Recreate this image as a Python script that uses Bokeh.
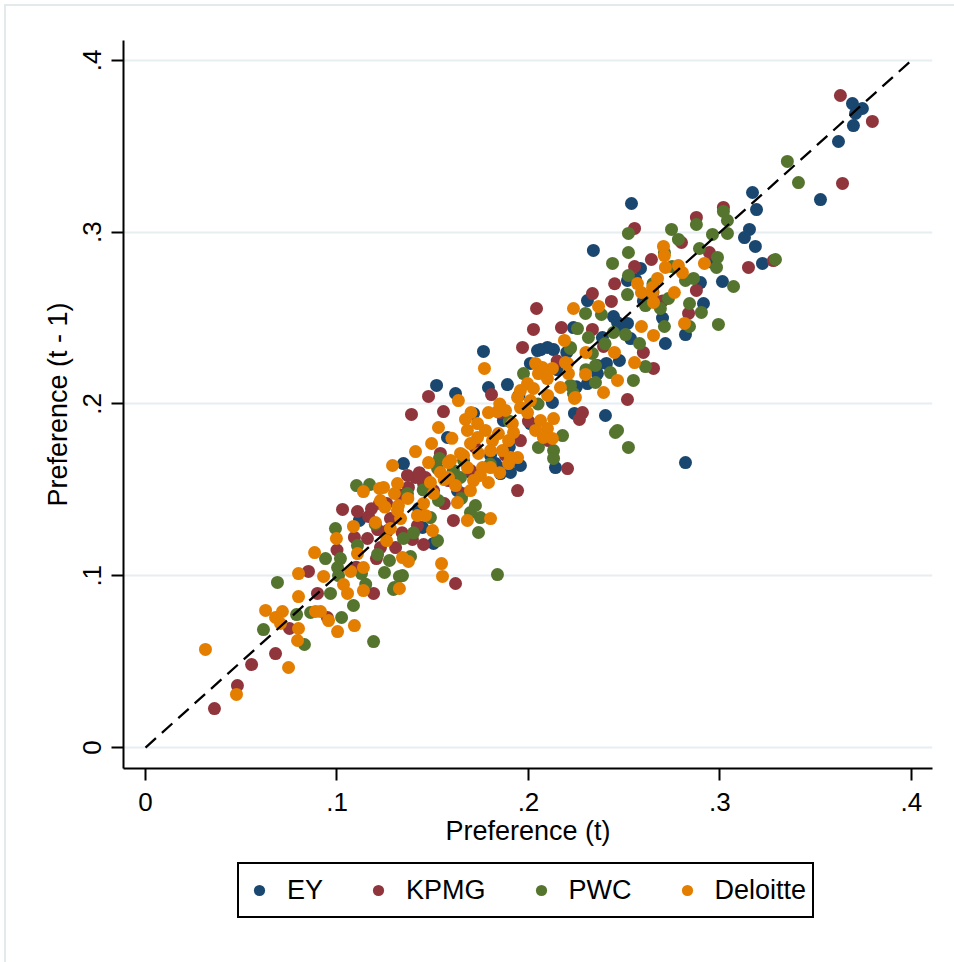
from bokeh.plotting import figure
from bokeh.layouts import column
from bokeh.models import (Range1d, FixedTicker, CustomJSTickFormatter, Legend, LegendItem)
from bokeh.embed import file_html
from bokeh.resources import INLINE

# ---------------- data ----------------
ey_x = [0.2538, 0.2820, 0.3525, 0.3692, 0.3744, 0.3708, 0.3697, 0.3619, 0.3170, 0.3191, 0.3154, 0.3128,
        0.3185, 0.3222, 0.3013, 0.2914, 0.2820, 0.2715, 0.2961, 0.2898, 0.2339, 0.2585, 0.2559, 0.2517,
        0.2308, 0.2444, 0.2235, 0.2131, 0.2099, 0.2063, 0.2386, 0.2465, 0.2517, 0.2407, 0.2360, 0.2475,
        0.2308, 0.2360, 0.2402, 0.2240, 0.2125, 0.2010, 0.2010, 0.1869, 0.1765, 0.1520, 0.1619, 0.1791,
        0.1890, 0.1713, 0.1577, 0.1854, 0.1906, 0.2141, 0.1854, 0.1828, 0.1347, 0.1426, 0.1117, 0.1629,
        0.1447, 0.2047, 0.2480, 0.2533, 0.1802, 0.1958, 0.1504,
        0.1900, 0.1950, 0.2200, 0.2600, 0.2700, 0.2150, 0.1700, 0.2250, 0.2650]
ey_y = [0.3167, 0.1659, 0.3190, 0.3749, 0.3720, 0.3691, 0.3621, 0.3528, 0.3231, 0.3132, 0.3016, 0.2969,
        0.2917, 0.2818, 0.2713, 0.2585, 0.2404, 0.2352, 0.2824, 0.2707, 0.2894, 0.2789, 0.2725, 0.2719,
        0.2602, 0.2509, 0.2445, 0.2317, 0.2329, 0.2317, 0.2387, 0.2474, 0.2469, 0.2236, 0.2224, 0.2253,
        0.2119, 0.2177, 0.1933, 0.1945, 0.2009, 0.1886, 0.2236, 0.1904, 0.2306, 0.2108, 0.2061, 0.2096,
        0.2113, 0.1945, 0.1805, 0.1624, 0.1601, 0.1630, 0.1595, 0.1653, 0.1653, 0.1391, 0.1322, 0.1496,
        0.1281, 0.2311, 0.2445, 0.2381, 0.1700, 0.1642, 0.1188,
        0.1750, 0.2050, 0.2300, 0.2600, 0.2500, 0.2200, 0.1600, 0.2100, 0.2650]

kpmg_x = [0.3629, 0.3796, 0.3640, 0.3018, 0.2877, 0.2799, 0.2945, 0.2642, 0.2554, 0.3149, 0.3279, 0.2877,
          0.2836, 0.2653, 0.2554, 0.2334, 0.2433, 0.2042, 0.2026, 0.2172, 0.2334, 0.2392, 0.1969, 0.2517,
          0.2204, 0.2282, 0.2266, 0.1807, 0.1478, 0.1556, 0.1389, 0.1943, 0.1462, 0.1582, 0.1540, 0.1410,
          0.1373, 0.1452, 0.1504, 0.1655, 0.1608, 0.1259, 0.1222, 0.1029, 0.1107, 0.1165, 0.1091, 0.1159,
          0.1212, 0.1264, 0.1227, 0.1206, 0.1306, 0.1394, 0.1452, 0.1279, 0.1420, 0.1368, 0.1191, 0.0851,
          0.0898, 0.0950, 0.0752, 0.0679, 0.0554, 0.0480, 0.0360, 0.1619, 0.1697, 0.1958, 0.2104,
          0.1430, 0.1330, 0.1180, 0.1000, 0.1560, 0.1720, 0.1850, 0.1880, 0.2000, 0.2150, 0.2450, 0.2700,
          0.2600, 0.1340, 0.1100]
kpmg_y = [0.3796, 0.3645, 0.3284, 0.3144, 0.3086, 0.2940, 0.2882, 0.2841, 0.2800, 0.2795, 0.2835, 0.2661,
          0.2527, 0.2207, 0.3022, 0.2643, 0.2597, 0.2556, 0.2434, 0.2445, 0.2434, 0.2335, 0.2329, 0.2026,
          0.1624, 0.1950, 0.1910, 0.2055, 0.2044, 0.1956, 0.1939, 0.1496, 0.1572, 0.1554, 0.1712, 0.1572,
          0.1514, 0.1537, 0.1496, 0.1479, 0.1322, 0.1421, 0.1421, 0.1386, 0.1374, 0.1345, 0.1223, 0.1217,
          0.1269, 0.1263, 0.1164, 0.1100, 0.1164, 0.1211, 0.1182, 0.1333, 0.1292, 0.1584, 0.0897, 0.1025,
          0.0897, 0.0757, 0.0693, 0.0547, 0.0483, 0.0361, 0.0227, 0.0955, 0.1613, 0.1787, 0.1787,
          0.1600, 0.1470, 0.1390, 0.1150, 0.1420, 0.1750, 0.1950, 0.1700, 0.1900, 0.2250, 0.2700, 0.2600,
          0.2300, 0.1250, 0.1050]

pwc_x = [0.3352, 0.3410, 0.3290, 0.3071, 0.3018, 0.3039, 0.2877, 0.2747, 0.3039, 0.2961, 0.2783, 0.2710,
         0.2893, 0.2987, 0.2982, 0.2992, 0.2841, 0.2903, 0.2841, 0.2862, 0.2820, 0.2731, 0.2689, 0.2611,
         0.2517, 0.2522, 0.2439, 0.2522, 0.2522, 0.2710, 0.2611, 0.2548, 0.2580, 0.2507, 0.2444, 0.2428,
         0.2350, 0.2334, 0.2350, 0.2235, 0.2298, 0.2381, 0.2256, 0.2313, 0.2219, 0.1974, 0.2219, 0.2178,
         0.2131, 0.2131, 0.2052, 0.2454, 0.2465, 0.2522, 0.1838, 0.1749, 0.1697, 0.1723, 0.1530, 0.1608,
         0.1535, 0.1661, 0.1645, 0.1525, 0.1488, 0.1525, 0.1347, 0.1384, 0.1274, 0.1212, 0.1248, 0.1342,
         0.1300, 0.1107, 0.1018, 0.0940, 0.0992, 0.1102, 0.1170, 0.1368, 0.1003, 0.1008, 0.1128, 0.0966,
         0.1086, 0.1024, 0.0862, 0.0830, 0.1191, 0.1295, 0.1326, 0.0689, 0.0616, 0.0789, 0.2219, 0.1739,
         0.1450, 0.1400, 0.1200, 0.1650, 0.1900, 0.2050, 0.2400, 0.2650, 0.2750, 0.1150, 0.1800, 0.2300]
pwc_y = [0.3412, 0.3289, 0.2841, 0.2684, 0.3121, 0.3068, 0.3045, 0.3016, 0.2993, 0.2987, 0.2958, 0.2882,
         0.2905, 0.2853, 0.2795, 0.2463, 0.2451, 0.2533, 0.2585, 0.2731, 0.2719, 0.2614, 0.2556, 0.2573,
         0.2637, 0.2748, 0.2818, 0.2882, 0.2993, 0.2451, 0.2218, 0.2137, 0.2352, 0.2404, 0.2416, 0.2183,
         0.2224, 0.2294, 0.2125, 0.2061, 0.2527, 0.2521, 0.2439, 0.2387, 0.2323, 0.2177, 0.2108, 0.1816,
         0.1729, 0.1683, 0.1747, 0.1834, 0.1846, 0.1747, 0.1007, 0.1339, 0.1368, 0.1409, 0.1438, 0.1613,
         0.1683, 0.1671, 0.1572, 0.1624, 0.1339, 0.1205, 0.1217, 0.1112, 0.1089, 0.1124, 0.1019, 0.1001,
         0.0932, 0.1176, 0.1100, 0.1100, 0.1275, 0.1525, 0.1531, 0.1479, 0.1048, 0.1001, 0.1013, 0.0897,
         0.0827, 0.0757, 0.0786, 0.0600, 0.0617, 0.0920, 0.0996, 0.0961, 0.0687, 0.0774, 0.2329, 0.1252,
         0.1500, 0.1250, 0.1300, 0.1450, 0.1900, 0.2000, 0.2350, 0.2700, 0.2800, 0.0950, 0.1650, 0.2200]

deloitte_x = [0.0313, 0.0475, 0.0747, 0.0627, 0.0715, 0.0679, 0.0705, 0.0799, 0.0794, 0.0799, 0.0799, 0.0930,
              0.1071, 0.1138, 0.1034, 0.1055, 0.1138, 0.0888, 0.0914, 0.0956, 0.1003, 0.1091, 0.0883, 0.0997,
              0.1107, 0.1138, 0.1222, 0.1086, 0.1201, 0.1259, 0.1342, 0.1373, 0.1326, 0.1290, 0.1410, 0.1494,
              0.1478, 0.1316, 0.1300, 0.1321, 0.1332, 0.1420, 0.1462, 0.1499, 0.1504, 0.1488, 0.1279, 0.1243,
              0.1227, 0.1316, 0.1452, 0.1770, 0.1634, 0.1530, 0.1671, 0.1734, 0.1791, 0.1838, 0.1880, 0.1681,
              0.1734, 0.1775, 0.1812, 0.1697, 0.1645, 0.1593, 0.1739, 0.1802, 0.1864, 0.1896, 0.1843, 0.1916,
              0.1922, 0.1943, 0.1896, 0.1802, 0.1760, 0.1749, 0.1791, 0.1713, 0.1681, 0.1540, 0.1619, 0.1943,
              0.1958, 0.1995, 0.2026, 0.2052, 0.2073, 0.2099, 0.2125, 0.2037, 0.2193, 0.2209, 0.2167, 0.2240,
              0.2010, 0.1958, 0.1995, 0.2063, 0.2037, 0.2099, 0.2131, 0.2078, 0.2125, 0.1906, 0.1582, 0.1661,
              0.1582, 0.1629, 0.1697, 0.1681, 0.1802, 0.1546, 0.1551, 0.2188, 0.2235, 0.2366, 0.2204, 0.2298,
              0.2392, 0.2245, 0.2465, 0.2449, 0.2554, 0.2590, 0.2653, 0.2815, 0.2653, 0.2590, 0.2648, 0.2762,
              0.2569, 0.2674, 0.2715, 0.2783, 0.2804, 0.2705, 0.2919, 0.2710, 0.2648,
              0.1250, 0.1370, 0.1560, 0.1700, 0.1850, 0.1600, 0.1850, 0.2100, 0.2300]
deloitte_y = [0.0571, 0.0309, 0.0466, 0.0798, 0.0792, 0.0757, 0.0722, 0.0693, 0.0623, 0.1013, 0.0879, 0.0996,
              0.1025, 0.1048, 0.0949, 0.0897, 0.0914, 0.0792, 0.0792, 0.0739, 0.0675, 0.0710, 0.1135, 0.1217,
              0.1129, 0.1490, 0.1508, 0.1287, 0.1310, 0.1205, 0.1106, 0.1083, 0.0926, 0.1642, 0.1723, 0.1770,
              0.1659, 0.1537, 0.1479, 0.1409, 0.1333, 0.1351, 0.1351, 0.1263, 0.1479, 0.1543, 0.1275, 0.1514,
              0.1438, 0.1380, 0.1421, 0.2207, 0.2020, 0.1863, 0.1910, 0.1886, 0.1950, 0.1956, 0.1962, 0.1846,
              0.1805, 0.1846, 0.1787, 0.1770, 0.1712, 0.1671, 0.1712, 0.1729, 0.1729, 0.1787, 0.1828, 0.1886,
              0.1834, 0.1688, 0.1653, 0.1630, 0.1630, 0.1584, 0.1543, 0.1554, 0.1630, 0.1601, 0.1525, 0.2038,
              0.2078, 0.2119, 0.2090, 0.2177, 0.2212, 0.2148, 0.2207, 0.2236, 0.2241, 0.2177, 0.2096, 0.2032,
              0.2020, 0.1979, 0.1950, 0.1904, 0.1846, 0.1857, 0.1915, 0.1805, 0.1799, 0.1688, 0.1659, 0.1700,
              0.1572, 0.1426, 0.1496, 0.1322, 0.1333, 0.1071, 0.0996, 0.2370, 0.2556, 0.2568, 0.2236, 0.2172,
              0.2067, 0.2038, 0.2137, 0.2300, 0.2241, 0.2451, 0.2399, 0.2469, 0.2591, 0.2649, 0.2649, 0.2649,
              0.2701, 0.2731, 0.2795, 0.2806, 0.2765, 0.2917, 0.2818, 0.2864, 0.2678,
              0.1400, 0.1450, 0.1560, 0.1950, 0.2000, 0.1800, 0.1600, 0.2050, 0.2300]

series_names = ["EY", "KPMG", "PWC", "Deloitte"]
series_colors = ["#1a476f", "#90353b", "#55752f", "#e37e00"]
series_x = [ey_x, kpmg_x, pwc_x, deloitte_x]
series_y = [ey_y, kpmg_y, pwc_y, deloitte_y]
tick_values = [0, 0.1, 0.2, 0.3, 0.4]
tick_labels = ["0", ".1", ".2", ".3", ".4"]
diag = [0.0, 0.4]

FONT = "Liberation Sans"
OFF = 6  # offset taken by the outer light frame

p = figure(width=954 - OFF, height=860 - OFF, output_backend="svg", toolbar_location=None,
           x_range=Range1d(-0.0115, 0.411), y_range=Range1d(-0.0122, 0.4116),
           min_border_left=123 - OFF, min_border_right=22, min_border_top=40 - OFF, min_border_bottom=92)
p.background_fill_color = "white"
p.border_fill_color = "white"
p.outline_line_color = None

fmt = CustomJSTickFormatter(args=dict(vals=tick_values, labs=tick_labels), code="""
for (let i = 0; i < vals.length; i++) { if (Math.abs(tick - vals[i]) < 1e-9) return labs[i]; }
return "";
""")

for ax in (p.xaxis[0], p.yaxis[0]):
    ax.ticker = FixedTicker(ticks=tick_values)
    ax.formatter = fmt
    ax.axis_line_color = "black"
    ax.axis_line_width = 2
    ax.major_tick_line_color = "black"
    ax.major_tick_line_width = 2
    ax.major_tick_out = 12
    ax.major_tick_in = 0
    ax.minor_tick_line_color = None
    ax.major_label_text_font = FONT
    ax.major_label_text_font_size = "26px"
    ax.major_label_text_color = "black"
    ax.axis_label_text_font = FONT
    ax.axis_label_text_font_size = "27px"
    ax.axis_label_text_font_style = "normal"
    ax.axis_label_text_color = "black"

p.xaxis.axis_label = "Preference (t)"
p.yaxis.axis_label = "Preference (t - 1)"
p.xaxis.major_label_standoff = 12
p.xaxis.axis_label_standoff = 2
p.yaxis.major_label_standoff = 10
p.yaxis.axis_label_standoff = 8
p.yaxis.major_label_orientation = "vertical"

p.xgrid.grid_line_color = None
p.ygrid.ticker = FixedTicker(ticks=tick_values)
p.ygrid.grid_line_color = "#e7eef1"
p.ygrid.grid_line_width = 2

for xs, ys, col in zip(series_x, series_y, series_colors):
    p.scatter(xs, ys, size=13, fill_color=col, line_color=None, marker="circle")

p.line(diag, diag, line_color="black", line_width=2.3, line_dash="14 8")

# ---- legend strip (separate figure under the plot; its frame is aligned with the plot's) ----
q = figure(width=954 - OFF, height=102, output_backend="svg", toolbar_location=None,
           x_range=Range1d(5, 6), y_range=Range1d(5, 6), x_axis_location=None, y_axis_location=None,
           min_border=0)
q.grid.visible = False
q.outline_line_color = None
q.background_fill_color = "white"
q.border_fill_color = "white"
# one point of each series, outside this strip's ranges: only the legend swatch shows
leg_renderers = [q.scatter(x=[xs[0]], y=[ys[0]], size=13, fill_color=c, line_color=None, marker="circle")
                 for xs, ys, c in zip(series_x, series_y, series_colors)]
legend = Legend(items=[LegendItem(label=n, renderers=[r]) for n, r in zip(series_names, leg_renderers)],
                orientation="horizontal", location=(237 - 123, 44))
legend.label_text_font = FONT
legend.label_text_font_size = "27px"
legend.label_text_color = "black"
legend.glyph_width = 28
legend.glyph_height = 40
legend.label_standoff = 14
legend.spacing = 41
legend.padding = 6
legend.margin = 0
legend.border_line_color = "black"
legend.border_line_alpha = 1
legend.border_line_width = 2
legend.background_fill_color = "white"
legend.background_fill_alpha = 1
q.add_layout(legend, "center")

layout = column(p, q, spacing=0)
layout.styles = {"margin-left": "4px", "margin-top": "4px",
                 "border-left": "2px solid #e4e9eb", "border-top": "2px solid #e4e9eb"}

open("out.html", "w").write(file_html(layout, INLINE))
